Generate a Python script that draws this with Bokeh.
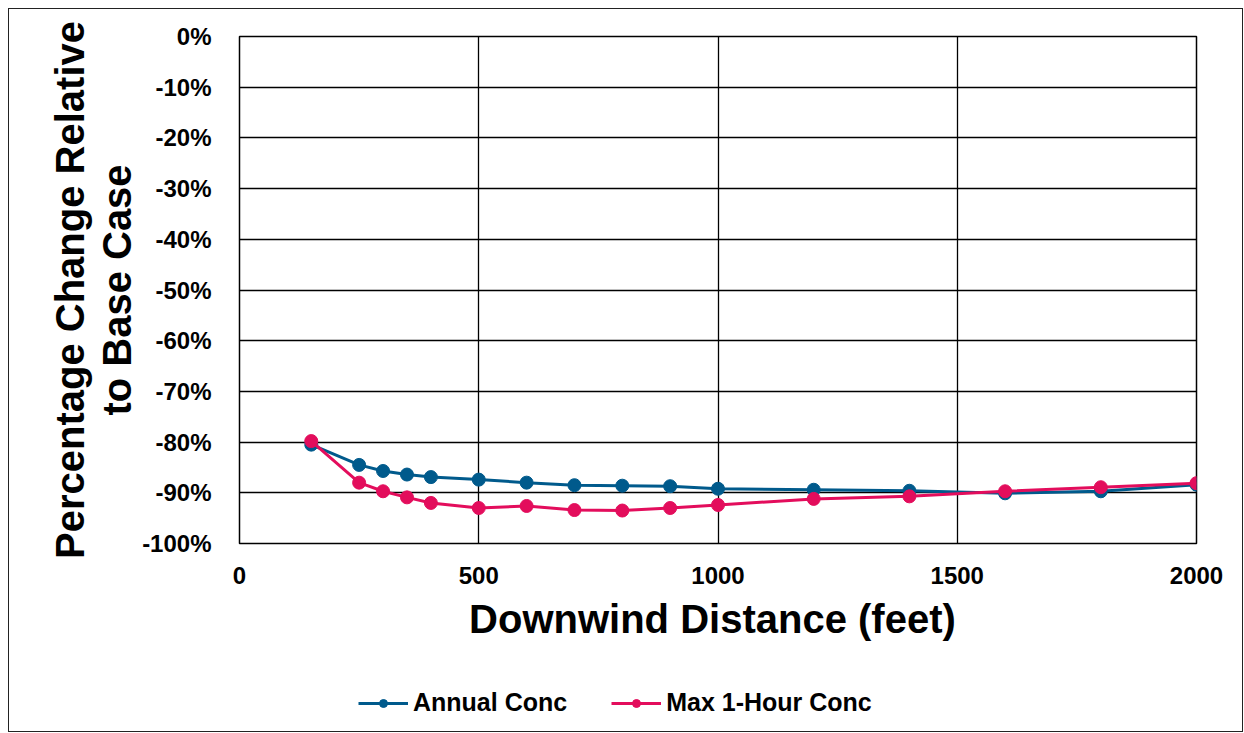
from bokeh.plotting import figure
from bokeh.layouts import column
from bokeh.models import FixedTicker, PrintfTickFormatter, Range1d, Legend, LegendItem, Title
from bokeh.embed import file_html
from bokeh.resources import INLINE

# Data
distance = [150, 250, 300, 350, 400, 500, 600, 700, 800, 900, 1000, 1200, 1400, 1600, 1800, 2000]
annual_conc = [-80.5, -84.5, -85.7, -86.4, -86.9, -87.4, -88.0, -88.5, -88.6, -88.7, -89.2, -89.4, -89.6, -90.1, -89.7, -88.4]
max_1hour_conc = [-79.8, -88.0, -89.7, -90.9, -92.0, -93.0, -92.6, -93.4, -93.5, -93.0, -92.4, -91.2, -90.7, -89.7, -88.9, -88.1]
x_ticks = [0, 500, 1000, 1500, 2000]
y_ticks = [-100, -90, -80, -70, -60, -50, -40, -30, -20, -10, 0]
y_label_lines = ["Percentage Change Relative", "to Base Case"]
series_names = ["Annual Conc", "Max 1-Hour Conc"]

BLUE = "#005A8C"
PINK = "#E30D5C"
FONT = "Liberation Sans"

p = figure(frame_width=957, frame_height=507, output_backend="svg", toolbar_location=None,
           x_range=Range1d(0, 2000), y_range=Range1d(-100, 0),
           min_border_left=230, min_border_top=27, min_border_right=46, min_border_bottom=120)

p.outline_line_color = "black"
p.outline_line_width = 1.5

for ax in (p.xaxis, p.yaxis):
    ax.axis_line_color = None
    ax.major_tick_line_color = None
    ax.minor_tick_line_color = None
    ax.major_label_text_font = FONT
    ax.major_label_text_font_style = "bold"
    ax.major_label_text_font_size = "24px"
    ax.major_label_text_color = "black"
    ax.axis_label_text_font = FONT
    ax.axis_label_text_font_style = "bold"
    ax.axis_label_text_font_size = "40px"
    ax.axis_label_text_color = "black"

p.xaxis.ticker = FixedTicker(ticks=x_ticks)
p.yaxis.ticker = FixedTicker(ticks=y_ticks)
p.yaxis.formatter = PrintfTickFormatter(format="%d%%")
p.xaxis.major_label_standoff = 17
p.yaxis.major_label_standoff = 22
p.xaxis.axis_label = "Downwind  Distance (feet)"
p.xaxis.axis_label_standoff = 10

# two-line y-axis title, inner line first (closest to the axis)
for txt, stand in ((y_label_lines[1], 2), (y_label_lines[0], 0)):
    p.add_layout(Title(text=txt, align="center", text_font=FONT, text_font_style="bold",
                       text_font_size="40px", text_color="black", standoff=stand), "left")

for g in (p.xgrid, p.ygrid):
    g.grid_line_color = "black"
    g.grid_line_width = 1.3
p.xgrid.ticker = FixedTicker(ticks=x_ticks)
p.ygrid.ticker = FixedTicker(ticks=y_ticks)

p.line(distance, annual_conc, line_color=BLUE, line_width=3)
p.scatter(distance, annual_conc, size=13, fill_color=BLUE, line_color=BLUE)
p.line(distance, max_1hour_conc, line_color=PINK, line_width=3)
p.scatter(distance, max_1hour_conc, size=13, fill_color=PINK, line_color=PINK)

# legend strip below the chart (same series, glyphs hidden, only shown in the legend)
leg = figure(frame_width=1233, frame_height=68, output_backend="svg", toolbar_location=None,
             x_axis_type=None, y_axis_type=None, min_border=0,
             x_range=Range1d(0, 2000), y_range=Range1d(-100, 0))
leg.outline_line_color = None
r1 = leg.line(distance, annual_conc, line_color=BLUE, line_width=3, visible=False)
r2 = leg.scatter(distance, annual_conc, size=13, fill_color=BLUE, line_color=BLUE, visible=False)
r3 = leg.line(distance, max_1hour_conc, line_color=PINK, line_width=3, visible=False)
r4 = leg.scatter(distance, max_1hour_conc, size=13, fill_color=PINK, line_color=PINK, visible=False)

legend = Legend(items=[LegendItem(label=series_names[0], renderers=[r1, r2]),
                       LegendItem(label=series_names[1], renderers=[r3, r4])],
                orientation="horizontal", location=(349, 14), click_policy="none",
                label_text_font=FONT, label_text_font_style="bold",
                label_text_font_size="25px", label_text_color="black",
                glyph_width=50, glyph_height=20, spacing=44, label_standoff=5,
                padding=5, border_line_color=None, background_fill_alpha=0,
                inactive_fill_alpha=0, margin=0)
leg.add_layout(legend, "center")

layout = column(p, leg, spacing=0)
layout.margin = (8, 0, 0, 8)
layout.styles = {"border": "1px solid #222"}

open("out.html", "w").write(file_html(layout, INLINE))
